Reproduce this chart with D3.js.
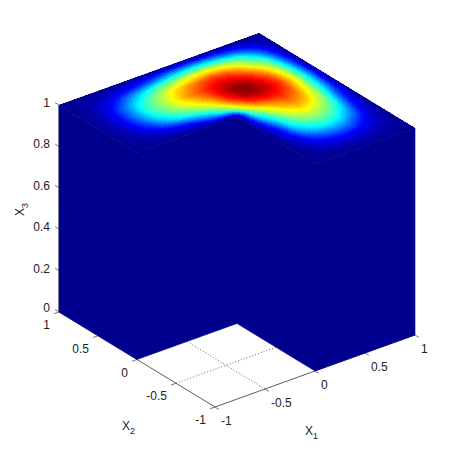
<!DOCTYPE html>
<html>
<head>
<meta charset="utf-8">
<script src="https://cdn.jsdelivr.net/npm/d3@7"></script>
<style>
  html, body { margin: 0; padding: 0; background: #fff; }
  svg { display: block; }
  text { font-family: "Liberation Sans", Arial, sans-serif; fill: #222; }
</style>
</head>
<body>
<div id="chart"></div>
<script>
// Grid of the top surface (x3 = 1)
var x1Grid = [-1, -0.875, -0.75, -0.625, -0.5, -0.375, -0.25, -0.125, 0, 0.125, 0.25, 0.375, 0.5, 0.625, 0.75, 0.875, 1];
var x2Grid = [1, 0.875, 0.75, 0.625, 0.5, 0.375, 0.25, 0.125, 0, -0.125, -0.25, -0.375, -0.5, -0.625, -0.75, -0.875, -1];
var _ = null; // the cut out quadrant
var topValues = [
  [0, 0,    0,    0,    0,    0,    0,    0,    0,    0,    0,    0,    0,    0,    0,    0,    0],
  [0, 0.015,0.035,0.06, 0.095,0.13, 0.175,0.225,0.285,0.31, 0.32, 0.30, 0.255,0.20, 0.125,0.06, 0],
  [0, 0.03, 0.08, 0.15, 0.255,0.35, 0.44, 0.51, 0.56, 0.60, 0.62, 0.59, 0.53, 0.44, 0.285,0.125,0],
  [0, 0.04, 0.12, 0.24, 0.375,0.47, 0.57, 0.66, 0.73, 0.79, 0.82, 0.79, 0.70, 0.56, 0.44, 0.20, 0],
  [0, 0.045,0.135,0.27, 0.41, 0.51, 0.61, 0.71, 0.79, 0.87, 0.92, 0.90, 0.82, 0.70, 0.53, 0.255,0],
  [0, 0.04, 0.12, 0.24, 0.375,0.47, 0.56, 0.64, 0.74, 0.88, 0.98, 1.00, 0.90, 0.79, 0.59, 0.30, 0],
  [0, 0.03, 0.09, 0.165,0.27, 0.36, 0.43, 0.52, 0.64, 0.82, 0.95, 0.98, 0.92, 0.82, 0.62, 0.32, 0],
  [0, 0.015,0.035,0.06, 0.10, 0.135,0.21, 0.31, 0.46, 0.66, 0.82, 0.88, 0.87, 0.79, 0.60, 0.31, 0],
  [0, 0,    0,    0,    0,    0,    0,    0,    0,    0.46, 0.64, 0.74, 0.79, 0.73, 0.56, 0.285,0],
  [_, _,    _,    _,    _,    _,    _,    _,    0,    0.31, 0.52, 0.64, 0.71, 0.66, 0.51, 0.225,0],
  [_, _,    _,    _,    _,    _,    _,    _,    0,    0.21, 0.43, 0.56, 0.61, 0.57, 0.44, 0.175,0],
  [_, _,    _,    _,    _,    _,    _,    _,    0,    0.135,0.36, 0.47, 0.51, 0.47, 0.35, 0.13, 0],
  [_, _,    _,    _,    _,    _,    _,    _,    0,    0.10, 0.27, 0.375,0.41, 0.375,0.255,0.095,0],
  [_, _,    _,    _,    _,    _,    _,    _,    0,    0.06, 0.165,0.24, 0.27, 0.24, 0.15, 0.06, 0],
  [_, _,    _,    _,    _,    _,    _,    _,    0,    0.035,0.09, 0.12, 0.135,0.12, 0.08, 0.035,0],
  [_, _,    _,    _,    _,    _,    _,    _,    0,    0.015,0.03, 0.04, 0.045,0.04, 0.03, 0.015,0],
  [_, _,    _,    _,    _,    _,    _,    _,    0,    0,    0,    0,    0,    0,    0,    0,    0]
];

// Outline of the L shaped solid, walked along the sides that face the viewer
var sideOutlineX1 = [-1, -1, 0, 0, 1];
var sideOutlineX2 = [1, 0, 0, -1, -1];
var backCornerX1 = 1;
var backCornerX2 = 1;
var sideValue = 0;

var x1Ticks = [-1, -0.5, 0, 0.5, 1];
var x2Ticks = [-1, -0.5, 0, 0.5, 1];
var x3Ticks = [0, 0.2, 0.4, 0.6, 0.8, 1];
var floorGrid = [-0.5];

var jetStops = [0, 0.125, 0.375, 0.625, 0.875, 1];
var jetColors = ["#00008f", "#0000ff", "#00ffff", "#ffff00", "#ff0000", "#800000"];

var w = 458, h = 458;
var color = d3.scaleLinear().domain(jetStops).range(jetColors).clamp(true);

// 3 axes projected on the page, each one adds its share to the pixel position
var x1ToX = d3.scaleLinear().domain([-1, 1]).range([0, 200]);
var x1ToY = d3.scaleLinear().domain([-1, 1]).range([0, -72]);
var x2ToX = d3.scaleLinear().domain([-1, 1]).range([0, -156]);
var x2ToY = d3.scaleLinear().domain([-1, 1]).range([0, -95]);
var x3ToY = d3.scaleLinear().domain([0, 1]).range([0, -207]);

function project(a, b, c) {
  return [215 + x1ToX(a) + x2ToX(b), 407 + x1ToY(a) + x2ToY(b) + x3ToY(c)];
}

var svg = d3.select("#chart").append("svg")
  .attr("width", w)
  .attr("height", h);

// the picture is a little soft, the surface gets a small blur too
svg.append("defs").append("filter")
  .attr("id", "soft")
  .append("feGaussianBlur")
  .attr("stdDeviation", 0.6);

// floor lines
var axisG = svg.append("g").attr("fill", "none");

floorGrid.forEach(function(v) {
  [[project(v, -1, 0), project(v, 0, 0)], [project(-1, v, 0), project(0, v, 0)]].forEach(function(seg) {
    axisG.append("line")
      .attr("x1", seg[0][0]).attr("y1", seg[0][1])
      .attr("x2", seg[1][0]).attr("y2", seg[1][1])
      .attr("stroke", "#444")
      .attr("stroke-width", 0.8)
      .attr("stroke-dasharray", "1 2");
  });
});

[[project(-1, -1, 0), project(1, -1, 0)],
 [project(-1, -1, 0), project(-1, 1, 0)],
 [project(-1, 1, 0), project(-1, 1, 1)]].forEach(function(seg) {
  axisG.append("line")
    .attr("x1", seg[0][0]).attr("y1", seg[0][1])
    .attr("x2", seg[1][0]).attr("y2", seg[1][1])
    .attr("stroke", "#333")
    .attr("stroke-width", 0.8);
});

// ticks and their labels
function tick(from, to) {
  axisG.append("line")
    .attr("x1", from[0]).attr("y1", from[1])
    .attr("x2", to[0]).attr("y2", to[1])
    .attr("stroke", "#555")
    .attr("stroke-width", 0.8);
}

var labels = svg.append("g").style("font-size", "12px");

x1Ticks.forEach(function(t) {
  var p = project(t, -1, 0);
  tick(p, project(t, -1.05, 0));
  labels.append("text")
    .attr("x", p[0] + 6)
    .attr("y", p[1] + 18)
    .text(t);
});

x2Ticks.forEach(function(t) {
  var p = project(-1, t, 0);
  tick(p, project(-1.05, t, 0));
  labels.append("text")
    .attr("x", p[0] - 9)
    .attr("y", p[1] + 17)
    .attr("text-anchor", "end")
    .text(t);
});

x3Ticks.forEach(function(t) {
  var p = project(-1, 1, t);
  tick(p, project(-1, 1.05, t));
  labels.append("text")
    .attr("x", p[0] - 9)
    .attr("y", p[1] + 3 - (t === 0 ? 3 : 1))
    .attr("text-anchor", "end")
    .text(t);
});

// axis names with a subscript
function axisName(x, y, sub, rotate) {
  var t = labels.append("text")
    .attr("transform", "translate(" + x + "," + y + ")" + (rotate ? " rotate(-90)" : ""));
  t.append("tspan").text("X");
  t.append("tspan").attr("dy", 4).style("font-size", "9px").text(sub);
}
axisName(305, 435, "1", false);
axisName(122, 430, "2", false);
axisName(24, 216, "3", true);

var solid = svg.append("g").attr("filter", "url(#soft)");

// dark blue sides of the solid
var sides = solid.append("g");
d3.pairs(d3.range(sideOutlineX1.length)).forEach(function(pair) {
  var i = pair[0], j = pair[1];
  var a = sideOutlineX1[i], b = sideOutlineX2[i];
  var c = sideOutlineX1[j], d = sideOutlineX2[j];
  sides.append("polygon")
    .attr("points", [project(a, b, 0), project(c, d, 0), project(c, d, 1), project(a, b, 1)].join(" "))
    .attr("fill", color(sideValue))
    .attr("stroke", color(sideValue))
    .attr("stroke-width", 0.6);
});

// dark base under the top so the small cells leave no light seam at the sides
var basePoints = sideOutlineX1.map(function(a, i) { return project(a, sideOutlineX2[i], 1); });
basePoints.push(project(backCornerX1, backCornerX2, 1));
sides.append("polygon")
  .attr("points", basePoints.join(" "))
  .attr("fill", color(sideValue));

// top surface, every grid cell shaded in small steps like interpolated shading
var steps = 6;
var cells = [];
for (var r = 0; r < x2Grid.length - 1; r++) {
  for (var q = 0; q < x1Grid.length - 1; q++) {
    var v00 = topValues[r + 1][q], v10 = topValues[r + 1][q + 1],
        v01 = topValues[r][q], v11 = topValues[r][q + 1];
    if (v00 === null || v10 === null || v01 === null || v11 === null) continue;
    for (var si = 0; si < steps; si++) {
      for (var sj = 0; sj < steps; sj++) {
        var s0 = si / steps, s1 = (si + 1) / steps, t0 = sj / steps, t1 = (sj + 1) / steps;
        var sm = (s0 + s1) / 2, tm = (t0 + t1) / 2;
        var a0 = x1Grid[q], a1 = x1Grid[q + 1], b0 = x2Grid[r + 1], b1 = x2Grid[r];
        cells.push({
          points: [
            project(a0 + (a1 - a0) * s0, b0 + (b1 - b0) * t0, 1),
            project(a0 + (a1 - a0) * s1, b0 + (b1 - b0) * t0, 1),
            project(a0 + (a1 - a0) * s1, b0 + (b1 - b0) * t1, 1),
            project(a0 + (a1 - a0) * s0, b0 + (b1 - b0) * t1, 1)
          ],
          value: v00 * (1 - sm) * (1 - tm) + v10 * sm * (1 - tm) + v01 * (1 - sm) * tm + v11 * sm * tm
        });
      }
    }
  }
}

solid.append("g")
  .attr("shape-rendering", "crispEdges")
  .selectAll("polygon")
  .data(cells)
  .enter()
  .append("polygon")
  .attr("points", function(d) { return d.points.join(" "); })
  .attr("fill", function(d) { return color(d.value); });
</script>
</body>
</html>
